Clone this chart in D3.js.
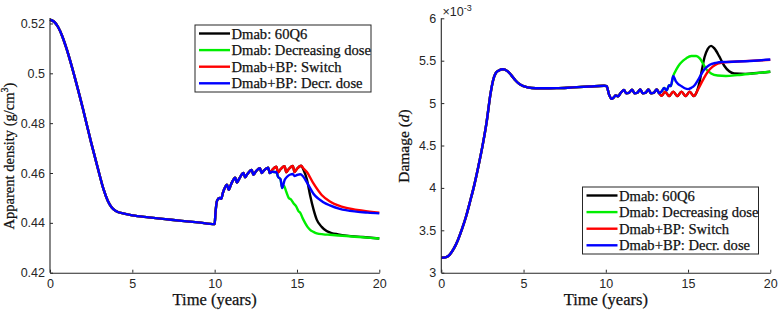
<!DOCTYPE html>
<html>
<head>
<meta charset="utf-8">
<script src="https://cdn.jsdelivr.net/npm/d3@7"></script>
<style>
  body { margin: 0; background: #fff; }
  svg { display: block; }
  .tick text { font-family: "Liberation Sans", Arial, sans-serif; font-size: 12.5px; fill: #262626; }
</style>
</head>
<body>
<svg id="chart" width="782" height="313"></svg>
<script>
// categories / labels
const seriesNames = ['Dmab: 60Q6', 'Dmab: Decreasing dose', 'Dmab+BP: Switch', 'Dmab+BP: Decr. dose'];
const seriesColors = ['#000000', '#00ee00', '#ff0000', '#0000ff'];
const timeTicks = [0, 5, 10, 15, 20];
const densityTicks = [0.42, 0.44, 0.46, 0.48, 0.5, 0.52];
const damageTicks = [3, 3.5, 4, 4.5, 5, 5.5, 6];

const serif = '"Liberation Serif", "DejaVu Serif", "Times New Roman", serif';

// apparent density, [time, value] -- shared part up to the first split
const densityCommon = [[0,0.5215],[0.25,0.5207],[0.5,0.5185],[0.75,0.5148],[1,0.5100],[1.5,0.4985],[2,0.4858],
  [2.5,0.4722],[3,0.4595],[3.25,0.4535],[3.5,0.4490],[3.75,0.4462],[4,0.4448],[4.5,0.4437],[5,0.4430],[6,0.4422],
  [7,0.4415],[8,0.4408],[9,0.4402],[10,0.4395],[10.05,0.4440],[10.15,0.4490],[10.3,0.4500],[10.4,0.4497],
  [10.5,0.4520],[10.75,0.4553],[10.85,0.4533],[11,0.4555],[11.25,0.4581],[11.35,0.4562],[11.5,0.4578],
  [11.75,0.4600],[11.85,0.4583],[12,0.4597],[12.25,0.4612],[12.35,0.4593],[12.5,0.4606],[12.75,0.4619],
  [12.85,0.4600],[13,0.4611],[13.25,0.4621]];
const densitySwitchOsc = [[13.35,0.4600],[13.5,0.4613],[13.75,0.4625],[13.85,0.4602],[14,0.4615],[14.25,0.4627],
  [14.35,0.4603],[14.5,0.4616],[14.75,0.4628],[14.85,0.4604],[15,0.4617],[15.25,0.4629]];
const densityDecrOsc = [[13.35,0.4600],[13.5,0.4605],[13.75,0.4603],[13.85,0.4585],[14,0.4575],[14.1,0.4540]];
const density60Q6End = [[15.4,0.4612],[15.6,0.4575],[15.8,0.4510],[16,0.4455],[16.2,0.4413],[16.5,0.4384],
  [16.8,0.4367],[17.1,0.4359],[17.5,0.4354],[18,0.4349],[19,0.4343],[20,0.4337]];
const densityDecDoseEnd = [[14.2,0.4549],[14.35,0.4525],[14.5,0.4500],[14.65,0.4493],[14.8,0.4478],[14.95,0.4466],
  [15.1,0.4446],[15.2,0.4440],[15.35,0.4418],[15.5,0.4399],[15.65,0.4383],[15.8,0.4372],[16,0.4364],[16.2,0.4358],
  [16.6,0.4354],[17,0.4352],[18,0.4347],[19,0.4342],[20,0.4337]];
const densitySwitchEnd = [[15.4,0.4618],[15.6,0.4604],[16,0.4558],[16.5,0.4512],[17,0.4486],[17.5,0.4470],
  [18,0.4460],[19,0.4449],[20,0.4441]];
const densityDecrEnd = [[14.25,0.4572],[14.4,0.4585],[14.6,0.4594],[14.75,0.4596],[14.85,0.4588],[15,0.4592],
  [15.2,0.4595],[15.35,0.4588],[15.5,0.4574],[15.75,0.4545],[16,0.4517],[16.3,0.4497],[16.6,0.4483],[17,0.4470],
  [17.6,0.4456],[18.6,0.4445],[19.3,0.4441],[20,0.4438]];

// damage (x10^-3), [time, value]
const damageCommon = [[0,3.176],[0.25,3.18],[0.5,3.21],[0.75,3.28],[1,3.38],[1.25,3.51],[1.5,3.66],[1.75,3.84],
  [2,4.03],[2.25,4.25],[2.5,4.49],[2.75,4.77],[3,5.12],[3.15,5.27],[3.3,5.35],[3.5,5.385],[3.75,5.40],[4,5.38],
  [4.25,5.33],[4.5,5.27],[4.75,5.225],[5,5.20],[5.5,5.178],[6,5.175],[7,5.176],[8,5.185],[9,5.195],[9.9,5.205],
  [10.05,5.20],[10.2,5.10],[10.35,5.05],[10.5,5.07],[10.6,5.09],[10.75,5.08],[10.9,5.12],[11.1,5.155],
  [11.25,5.115],[11.4,5.12],[11.6,5.158],[11.75,5.115],[11.9,5.12],[12.1,5.16],[12.25,5.115],[12.4,5.12],
  [12.6,5.16],[12.75,5.115],[12.9,5.12],[13.1,5.16],[13.25,5.115]];
const damageSwitchOsc = [[13.4,5.085],[13.6,5.135],[13.85,5.083],[14.1,5.135],[14.35,5.083],[14.6,5.135],
  [14.85,5.083],[15.1,5.135],[15.35,5.083]];
const damageDecrOsc = [[13.4,5.14],[13.55,5.18],[13.7,5.15],[13.85,5.21],[13.95,5.20],[14.1,5.32]];
const damage60Q6End = [[15.5,5.12],[15.7,5.25],[15.85,5.40],[16,5.54],[16.2,5.64],[16.4,5.675],[16.6,5.645],
  [16.9,5.55],[17.2,5.44],[17.5,5.375],[17.8,5.35],[18.5,5.345],[19.2,5.355],[20,5.37]];
const damageDecDoseEnd = [[14.3,5.40],[14.5,5.46],[14.7,5.50],[14.9,5.53],[15.2,5.555],[15.5,5.555],[15.7,5.53],
  [15.9,5.47],[16.1,5.40],[16.4,5.35],[16.8,5.325],[17.3,5.32],[18,5.33],[19,5.35],[20,5.37]];
const damageSwitchEnd = [[15.6,5.16],[15.9,5.27],[16.2,5.37],[16.5,5.43],[16.8,5.465],[17.2,5.48],[18,5.49],
  [19,5.50],[20,5.51]];
const damageDecrEnd = [[14.25,5.26],[14.4,5.225],[14.6,5.20],[14.8,5.175],[15,5.165],[15.2,5.18],[15.4,5.21],
  [15.6,5.27],[15.8,5.34],[16,5.40],[16.3,5.45],[16.7,5.475],[17.2,5.485],[18,5.49],[19,5.50],[20,5.515]];

const svg = d3.select('#chart');

function drawPanel(p) {
  const x = d3.scaleLinear().domain([0, 20]).range([p.left, p.right]);
  const y = d3.scaleLinear().domain(p.yDomain).range([p.bottom, p.top]);
  const g = svg.append('g');

  const line = d3.line()
    .x(function(d) {return x(d[0]);})
    .y(function(d) {return y(d[1]);})
    .curve(d3.curveMonotoneX);

  //draw in order so blue ends on top, as in the original
  p.series.forEach(function(s, i) {
    g.append('path')
      .datum(s)
      .attr('d', line)
      .attr('fill', 'none')
      .attr('stroke', seriesColors[i])
      .attr('stroke-width', 2.4)
      .attr('stroke-linejoin', 'round');
  });

  const xAxis = g.append('g')
    .attr('transform', 'translate(0,' + p.bottom + ')')
    .call(d3.axisBottom(x).tickValues(timeTicks).tickSizeInner(-3).tickSizeOuter(0).tickPadding(6));
  const yAxis = g.append('g')
    .attr('transform', 'translate(' + p.left + ',0)')
    .call(d3.axisLeft(y).tickValues(p.yTicks).tickFormat(p.yFormat).tickSizeInner(-3).tickSizeOuter(0).tickPadding(5));
  [xAxis, yAxis].forEach(function(a) {
    a.select('.domain').attr('stroke', '#262626').attr('stroke-width', 1.1);
    a.selectAll('.tick line').attr('stroke', '#262626');
  });
  //y axis line runs only up to the plot box top
  yAxis.select('.domain').attr('d', 'M0,' + p.bottom + 'V' + p.top);

  g.append('text')
    .attr('font-family', serif)
    .attr('fill', '#111')
    .attr('stroke', '#111').attr('stroke-width', 0.25)
    .attr('x', (p.left + p.right) / 2)
    .attr('y', 305)
    .attr('text-anchor', 'middle')
    .attr('font-size', 16.5)
    .text('Time (years)');

  //legend
  const lg = g.append('g').attr('transform', 'translate(' + p.legX + ',' + p.legY + ')');
  lg.append('rect')
    .attr('width', 176).attr('height', 67)
    .attr('fill', '#fff')
    .attr('stroke', '#262626')
    .attr('stroke-width', 1);
  seriesNames.forEach(function(name, i) {
    const yy = 8.5 + i * 16.6;
    lg.append('line')
      .attr('x1', 4).attr('x2', 35)
      .attr('y1', yy).attr('y2', yy)
      .attr('stroke', seriesColors[i])
      .attr('stroke-width', 2.4);
    lg.append('text')
      .attr('font-family', serif)
      .attr('fill', '#111')
      .attr('stroke', '#111').attr('stroke-width', 0.25)
      .attr('x', 36.5).attr('y', yy + 5)
      .attr('font-size', 14.6)
      .text(name);
  });
  return g;
}

const left = drawPanel({
  left: 50, right: 379.3, top: 18, bottom: 272.7,
  yDomain: [0.42, 0.5222], yTicks: densityTicks, yFormat: d3.format('~g'),
  series: [
    densityCommon.concat(densitySwitchOsc, density60Q6End),
    densityCommon.concat(densityDecrOsc, densityDecDoseEnd),
    densityCommon.concat(densitySwitchOsc, densitySwitchEnd),
    densityCommon.concat(densityDecrOsc, densityDecrEnd)
  ],
  legX: 195, legY: 25
});

const right = drawPanel({
  left: 441.3, right: 770.3, top: 18.3, bottom: 272.7,
  yDomain: [3, 6], yTicks: damageTicks, yFormat: d3.format('~g'),
  series: [
    damageCommon.concat(damageSwitchOsc, damage60Q6End),
    damageCommon.concat(damageDecrOsc, damageDecDoseEnd),
    damageCommon.concat(damageSwitchOsc, damageSwitchEnd),
    damageCommon.concat(damageDecrOsc, damageDecrEnd)
  ],
  legX: 582.5, legY: 187
});

//y labels
const yl1 = svg.append('text')
  .attr('font-family', serif)
  .attr('fill', '#111')
  .attr('stroke', '#111').attr('stroke-width', 0.25)
  .attr('transform', 'translate(14,156) rotate(-90)')
  .attr('text-anchor', 'middle')
  .attr('font-size', 14.5);
yl1.append('tspan').text('Apparent density (g/cm');
yl1.append('tspan').attr('font-size', 10).attr('dy', -6).text('3');
yl1.append('tspan').attr('dy', 6).text(')');

const yl2 = svg.append('text')
  .attr('font-family', serif)
  .attr('fill', '#111')
  .attr('stroke', '#111').attr('stroke-width', 0.25)
  .attr('transform', 'translate(409,146) rotate(-90)')
  .attr('text-anchor', 'middle')
  .attr('font-size', 15.5);
yl2.append('tspan').text('Damage (');
yl2.append('tspan').attr('font-style', 'italic').text('d');
yl2.append('tspan').text(')');

//exponent label
const ex = svg.append('text')
  .attr('x', 442.5).attr('y', 15.5)
  .attr('font-family', '"Liberation Sans", Arial, sans-serif')
  .attr('font-size', 12.5)
  .attr('fill', '#262626');
ex.append('tspan').text('\u00d710');
ex.append('tspan').attr('font-size', 9).attr('dy', -5).text('-3');
</script>
</body>
</html>
